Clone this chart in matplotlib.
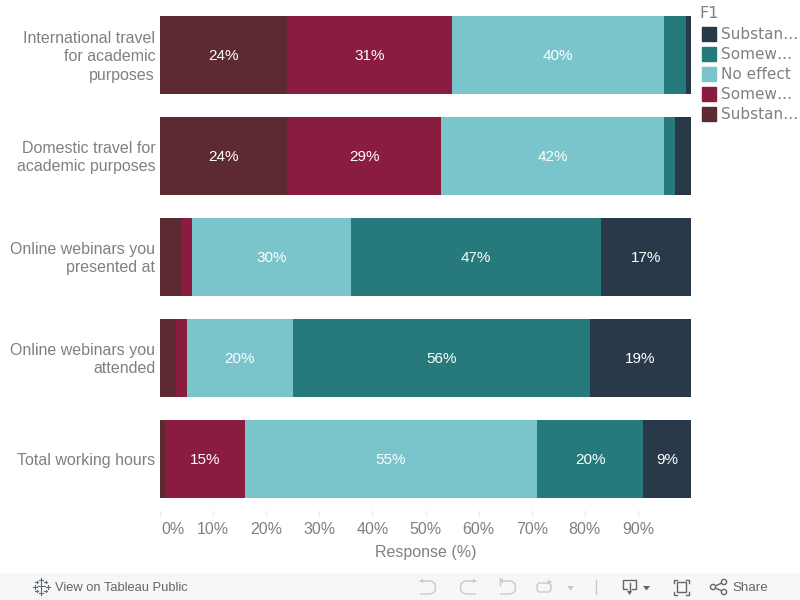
import matplotlib
matplotlib.use('Agg')
import matplotlib.pyplot as plt
import matplotlib.transforms as mtrans
from matplotlib.lines import Line2D
from matplotlib.patches import Rectangle, Circle, Polygon, FancyBboxPatch

categories = ['International travel\nfor academic\npurposes',
              'Domestic travel for\nacademic purposes',
              'Online webinars you\npresented at',
              'Online webinars you\nattended',
              'Total working hours']
subst_neg = [24, 24, 4, 3, 1]
somew_neg = [31, 29, 2, 2, 15]
no_effect = [40, 42, 30, 20, 55]
somew_pos = [4, 2, 47, 56, 20]
subst_pos = [1, 3, 17, 19, 9]
series = [subst_neg, somew_neg, no_effect, somew_pos, subst_pos]
colors = ['#5c2a30', '#8a1c3f', '#7ac5cb', '#277a7b', '#2a3949']
legend_labels = ['Substan…', 'Somew…', 'No effect', 'Somew…', 'Substan…']
xticks = [0, 10, 20, 30, 40, 50, 60, 70, 80, 90]

W, H = 800, 600
GREY = '#808080'
ICON = '#c9c9c9'
DARK = '#666666'
fig = plt.figure(figsize=(8, 6), dpi=100)
ax = fig.add_axes([160 / W, 1 - 510 / H, 531 / W, 505 / H])
ax.set_xlim(0, 100)
# 101 px per row, first bar centre at y=55
ax.set_ylim((510 - 55) / 101, (5 - 55) / 101)

y = list(range(len(categories)))
left = [0] * len(categories)
for vals, c in zip(series, colors):
    ax.barh(y, vals, left=left, height=78 / 101, color=c)
    for i, v in enumerate(vals):
        if v >= 9:
            ax.text(left[i] + v / 2, i + 0.01, f'{v}%', color='white', ha='center', va='center',
                    fontsize=11, family='Liberation Sans')
    left = [a + b for a, b in zip(left, vals)]

for s in ax.spines.values():
    s.set_visible(False)
ax.set_yticks(y)
ax.set_yticklabels(categories, family='Liberation Sans', fontsize=11.5, color=GREY, linespacing=1.28)
ax.tick_params(axis='y', length=0, pad=3.5)
# wrapped labels sit a little higher than matplotlib centres them
for lab in ax.get_yticklabels():
    if '\n' in lab.get_text():
        lab.set_transform(lab.get_transform() + mtrans.ScaledTranslation(0, 1.5 / 100, fig.dpi_scale_trans))
ax.set_xticks(xticks)
ax.set_xticklabels([f'{t}%' for t in xticks], family='Liberation Sans', fontsize=11.5, color=GREY)
ax.tick_params(axis='x', length=5, color='#eeeeee', width=1, pad=4)
# first label sits to the right of its tick
first = ax.get_xticklabels()[0]
first.set_ha('left')
first.set_transform(first.get_transform() + mtrans.ScaledTranslation(1 / 100, 0, fig.dpi_scale_trans))
fig.text(425.5 / W, 1 - 553 / H, 'Response (%)', family='Liberation Sans', fontsize=11.5, color=GREY,
         ha='center', va='center')

# legend drawn by hand, the labels are truncated tableau style
fig.text(699 / W, 1 - 13 / H, 'F1', fontsize=11.5, color=GREY, va='center')
for k, (lab, c) in enumerate(zip(legend_labels[::-1], colors[::-1])):
    yy = 34 + 20 * k
    fig.add_artist(Rectangle((702 / W, 1 - (yy + 7) / H), 14 / W, 14 / H, color=c,
                             transform=fig.transFigure))
    fig.text(721 / W, 1 - (yy + 0.5) / H, lab, fontsize=11, color=GREY, va='center')

# tableau toolbar, everything below is in pixels from the top left
px = mtrans.Affine2D().scale(1, -1).translate(0, H)


def line(xs, ys, color=ICON, lw=1.0):
    fig.add_artist(Line2D(xs, ys, color=color, lw=lw, transform=px))


def tri(x0, x1, y0, y1, color):
    fig.add_artist(Polygon([(x0, y0), (x1, y0), ((x0 + x1) / 2, y1)], color=color, lw=0, transform=px))


def undo(x0, flip=False):
    # hook arrow, 16 px wide
    xs = [0, 10, 13, 15, 15.5, 15, 13, 10, 1]
    ys = [581, 581, 582, 584, 587.5, 591, 593, 594, 594]
    if flip:
        xs = [16 - v for v in xs]
    line([x0 + v for v in xs], ys)
    tip = 16 if flip else 0
    d = -3 if flip else 3
    fig.add_artist(Polygon([(x0 + tip, 581), (x0 + tip + d, 578.5), (x0 + tip + d, 583.5)],
                           color=ICON, lw=0, transform=px))


fig.add_artist(Rectangle((0, 573), W, 27, color='#f7f7f7', lw=0, transform=px, zorder=-1))

# logo
for cx, cy, r in [(41, 586, 3.5), (41, 580, 2), (41, 593, 2), (35, 586.5, 2), (48, 586.5, 2),
                  (36.5, 582, 1.2), (45.5, 582, 1.2), (36.5, 591, 1.2), (45.5, 591, 1.2)]:
    line([cx - r, cx + r], [cy, cy], color='#5f6b78', lw=0.8)
    line([cx, cx], [cy - r, cy + r], color='#5f6b78', lw=0.8)
fig.text(55 / W, 1 - 588 / H, 'View on Tableau Public', family='Liberation Sans', fontsize=9.3,
         color=DARK, va='center')

undo(420)
undo(460, flip=True)
undo(500)
line([500, 500], [578, 585])
fig.add_artist(FancyBboxPatch((537, 583), 14, 9, boxstyle='round,pad=0,rounding_size=3', fill=False,
                              ec=ICON, lw=1, transform=px))
fig.add_artist(Polygon([(552, 582), (548, 579.5), (548, 584.5)], color=ICON, lw=0, transform=px))
tri(567, 574, 586, 590.5, ICON)
line([595.5, 595.5], [580, 594])

# download
line([627, 623, 623, 636, 636, 632], [589, 589, 579.5, 579.5, 589, 589], color=DARK)
line([629.5, 629.5], [583, 592], color=DARK)
tri(627, 632, 591, 595, DARK)
tri(643, 650, 586, 590.5, DARK)

# fit to screen
fig.add_artist(Rectangle((677, 582), 9, 10, fill=False, ec=DARK, lw=1, transform=px))
for cx, sx in [(673.5, 1), (688.5, -1)]:
    for cy, sy in [(579.5, 1), (594.5, -1)]:
        line([cx + 3 * sx, cx, cx], [cy, cy, cy + 3 * sy], color=DARK)

# share
line([724, 713, 724], [582, 587, 592], color=DARK)
for cx, cy in [(713, 587), (724, 582), (724, 592)]:
    fig.add_artist(Circle((cx, cy), 2.6, fc='#f7f7f7', ec=DARK, lw=1, transform=px, zorder=5))
fig.text(732 / W, 1 - 588 / H, 'Share', family='Liberation Sans', fontsize=9.6, color=DARK, va='center')

fig.savefig('out.png', dpi=100)
